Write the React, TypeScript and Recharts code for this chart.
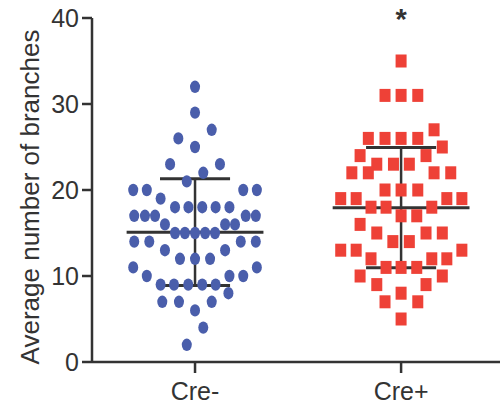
import React from 'react';
import {
  ScatterChart,
  Scatter,
  XAxis,
  YAxis,
  ReferenceLine,
  ReferenceDot,
} from 'recharts';

const categories = ['Cre-', 'Cre+'];
const yTicks = [0, 10, 20, 30, 40];

const creMinusValues = [
  32, 29, 27, 26, 25, 23, 23, 22, 21, 20, 20, 20, 20, 19, 18, 18, 18, 18, 18,
  17, 17, 17, 17, 17, 16, 16, 16, 15, 15, 15, 15, 15, 14, 14, 14, 14, 13, 13,
  12, 12, 12, 11, 11, 10, 10, 10, 9, 9, 9, 9, 9, 8, 7, 7, 7, 6, 4, 2,
];
const creMinusJitter = [
  0, 0, 0.081, -0.081, 0, -0.121, 0.121, 0.04, -0.04, -0.3, -0.234, 0.234, 0.3,
  -0.167, -0.097, -0.032, 0.035, 0.1, 0.167, -0.295, -0.243, -0.194, 0.246,
  0.295, -0.146, 0.146, 0.194, -0.097, -0.049, 0, 0.049, 0.097, -0.295, -0.222,
  0.222, 0.295, -0.146, 0.146, -0.073, 0, 0.073, -0.3, 0.3, -0.234, 0.167,
  0.234, -0.167, -0.102, -0.033, 0.035, 0.1, 0.162, -0.159, -0.078, 0.081, 0,
  0.04, -0.04,
];

const crePlusValues = [
  35, 31, 31, 31, 27, 26, 26, 26, 26, 25, 24, 24, 23, 23, 23, 22, 22, 22, 22,
  20, 20, 20, 19, 19, 19, 19, 18, 18, 18, 17, 17, 16, 15, 15, 15, 14, 14, 13,
  13, 13, 12, 12, 12, 11, 11, 11, 10, 10, 9, 9, 8, 7, 7, 5,
];
const crePlusJitter = [
  0, -0.078, 0, 0.081, 0.16, -0.159, -0.078, 0, 0.081, 0.2, -0.199, 0.121,
  -0.118, -0.037, 0.04, -0.239, -0.159, 0.16, 0.241, -0.078, 0, 0.081, -0.293,
  -0.218, 0.222, 0.295, -0.146, -0.073, 0.149, 0, 0.076, -0.199, -0.118, 0.121,
  0.2, -0.04, 0.04, -0.293, -0.218, 0.295, -0.146, 0.149, 0.222, -0.073, 0,
  0.076, -0.199, 0.2, -0.118, 0.121, 0, -0.078, 0.081, 0,
];

// mean and SD
const groupMeans = [15.1, 17.95];
const groupSDs = [6.2, 7.0];

const BLUE = '#4A5EAB';
const RED = '#EE4137';
const INK = '#333333';

const creMinusData = creMinusValues.map((v, i) => ({ x: 1 + creMinusJitter[i], y: v }));
const crePlusData = crePlusValues.map((v, i) => ({ x: 2 + crePlusJitter[i], y: v }));

const MEAN_HALF = 0.332;
const CAP_HALF = 0.17;

const Ellipse = (props: any) => {
  const { cx, cy } = props;
  if (cx == null || cy == null) return null;
  return <ellipse cx={cx} cy={cy} rx={5} ry={6.2} fill={BLUE} />;
};

const Square = (props: any) => {
  const { cx, cy } = props;
  if (cx == null || cy == null) return null;
  return <rect x={cx - 5.5} y={cy - 6.5} width={11} height={13} fill={RED} />;
};

export default function App() {
  const lines: React.ReactNode[] = [];
  groupMeans.forEach((m, i) => {
    const c = i + 1;
    const sd = groupSDs[i];
    lines.push(
      <ReferenceLine
        key={`m${i}`}
        segment={[{ x: c - MEAN_HALF, y: m }, { x: c + MEAN_HALF, y: m }]}
        stroke={INK}
        strokeWidth={3}
      />,
      <ReferenceLine
        key={`u${i}`}
        segment={[{ x: c - CAP_HALF, y: m + sd }, { x: c + CAP_HALF, y: m + sd }]}
        stroke={INK}
        strokeWidth={3}
      />,
      <ReferenceLine
        key={`l${i}`}
        segment={[{ x: c - CAP_HALF, y: m - sd }, { x: c + CAP_HALF, y: m - sd }]}
        stroke={INK}
        strokeWidth={3}
      />,
      <ReferenceLine
        key={`v${i}`}
        segment={[{ x: c, y: m - sd }, { x: c, y: m + sd }]}
        stroke={INK}
        strokeWidth={2.5}
      />
    );
  });

  return (
    <div
      style={{
        position: 'absolute',
        left: 0,
        top: 0,
        width: 500,
        height: 406,
        fontFamily: '"Liberation Sans", Arial, sans-serif',
        background: '#fff',
      }}
    >
      <ScatterChart
        width={500}
        height={406}
        margin={{ top: 18, right: 0, bottom: 0, left: 0 }}
      >
        <XAxis
          type="number"
          dataKey="x"
          domain={[0.5, 2.48]}
          allowDataOverflow
          ticks={[1, 2]}
          tickFormatter={(v: number) => categories[Math.round(v) - 1]}
          height={44}
          tickSize={11}
          tickMargin={9}
          axisLine={{ stroke: INK, strokeWidth: 2.5 }}
          tickLine={{ stroke: INK, strokeWidth: 2.5 }}
          tick={{ fill: INK, fontSize: 25 }}
        />
        <YAxis
          type="number"
          dataKey="y"
          domain={[0, 40]}
          ticks={yTicks}
          width={92}
          tickSize={10}
          tickMargin={3}
          axisLine={{ stroke: INK, strokeWidth: 2.5 }}
          tickLine={{ stroke: INK, strokeWidth: 2.5 }}
          tick={{ fill: INK, fontSize: 25 }}
          label={{
            value: 'Average number of branches',
            angle: -90,
            position: 'center',
            dx: -16,
            dy: 7,
            fill: INK,
            fontSize: 26,
          }}
        />
        <Scatter
          name="Cre-"
          data={creMinusData}
          shape={Ellipse}
          isAnimationActive={false}
        />
        <Scatter
          name="Cre+"
          data={crePlusData}
          shape={Square}
          isAnimationActive={false}
        />
        {lines}
        <ReferenceDot
          x={2}
          y={40}
          r={1}
          fill="none"
          stroke="none"
          label={{ value: '*', position: 'center', fill: INK, fontSize: 29, fontWeight: 'bold', dy: 1 }}
        />
      </ScatterChart>
    </div>
  );
}
